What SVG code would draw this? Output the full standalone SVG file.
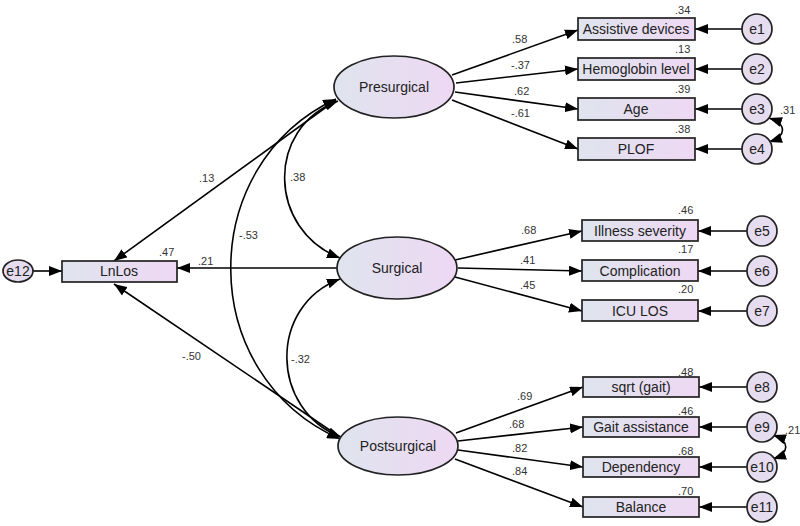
<svg xmlns="http://www.w3.org/2000/svg" width="800" height="526" viewBox="0 0 800 526">
<defs>
<linearGradient id="g" x1="0" y1="0" x2="1" y2="0">
<stop offset="0" stop-color="#dfe4ee"/>
<stop offset="1" stop-color="#eed8f3"/>
</linearGradient>
<marker id="ah" viewBox="0 0 13 10" refX="13" refY="5" markerWidth="13" markerHeight="10" markerUnits="userSpaceOnUse" orient="auto-start-reverse">
<path d="M0,0 L13,5 L0,10 z" fill="#000"/>
</marker>
<style>
.box{fill:url(#g);stroke:#222;stroke-width:1.7}
.lat{fill:url(#g);stroke:#222;stroke-width:1.7}
.err{fill:#e6dcef;stroke:#222;stroke-width:1.7}
.lbl{font-family:"Liberation Sans",Arial,sans-serif;font-size:14px;fill:#222;text-anchor:middle}
.num{font-family:"Liberation Sans",Arial,sans-serif;font-size:11px;fill:#333}
.c{fill:none;stroke:#000;stroke-width:1.6;marker-end:url(#ah)}
.d{fill:none;stroke:#000;stroke-width:1.6;marker-end:url(#ah);marker-start:url(#ah)}
</style>
</defs>
<rect width="800" height="526" fill="#fff"/>

<g id="connectors">
<path class="c" d="M452,75 L578,30"/>
<path class="c" d="M456,83 L578,69"/>
<path class="c" d="M455,92 L578,109"/>
<path class="c" d="M452,100 L578,149"/>
<path class="c" d="M455,260 L582,231"/>
<path class="c" d="M458,268 L582,271"/>
<path class="c" d="M455,277 L582,311"/>
<path class="c" d="M456,433 L583,387"/>
<path class="c" d="M458,441 L583,427"/>
<path class="c" d="M458,450 L583,467"/>
<path class="c" d="M455,459 L583,507"/>
<path class="c" d="M336,100 L114,261"/>
<path class="c" d="M338,268 L177,268"/>
<path class="c" d="M340,437 L114,284"/>
<path class="c" d="M33,271 L62,271"/>
<path class="d" d="M338,101 C265,128 268,230 340,258"/>
<path class="d" d="M336,99 C195,165 195,375 340,439"/>
<path class="d" d="M340,279 C268,306 270,410 341,437"/>
<path class="d" d="M769,118 C787,124 787,136 769,142"/>
<path class="d" d="M773,435 C790,441 790,453 773,459"/>
<path class="c" d="M742,29 L695,29"/>
<path class="c" d="M742,69 L695,69"/>
<path class="c" d="M742,109 L695,109"/>
<path class="c" d="M742,149 L695,149"/>
<path class="c" d="M747,231 L698,231"/>
<path class="c" d="M747,271 L698,271"/>
<path class="c" d="M747,311 L698,311"/>
<path class="c" d="M747,387 L699,387"/>
<path class="c" d="M747,427 L699,427"/>
<path class="c" d="M747,467 L699,467"/>
<path class="c" d="M747,507 L699,507"/>
</g>

<g id="e12"><ellipse class="err" cx="18" cy="271" rx="15" ry="11"/><text class="lbl" x="18" y="276">e12</text></g>
<g id="LnLos"><rect class="box" x="62" y="261" width="115" height="21"/><text class="lbl" x="119" y="276">LnLos</text></g>

<g id="Presurgical"><ellipse class="lat" cx="394" cy="87" rx="60" ry="31"/><text class="lbl" x="394" y="92">Presurgical</text></g>
<g id="Surgical"><ellipse class="lat" cx="397" cy="268" rx="60" ry="31"/><text class="lbl" x="397" y="273">Surgical</text></g>
<g id="Postsurgical"><ellipse class="lat" cx="398" cy="446" rx="60" ry="29"/><text class="lbl" x="398" y="451">Postsurgical</text></g>

<g id="assistive"><rect class="box" x="578" y="18" width="117" height="22"/><text class="lbl" x="636" y="34">Assistive devices</text></g>
<g id="hemoglobin"><rect class="box" x="578" y="58" width="117" height="22"/><text class="lbl" x="636" y="74">Hemoglobin level</text></g>
<g id="age"><rect class="box" x="578" y="98" width="117" height="22"/><text class="lbl" x="636" y="114">Age</text></g>
<g id="plof"><rect class="box" x="578" y="138" width="117" height="22"/><text class="lbl" x="636" y="154">PLOF</text></g>

<g id="illness"><rect class="box" x="582" y="220" width="116" height="21"/><text class="lbl" x="640" y="236">Illness severity</text></g>
<g id="complication"><rect class="box" x="582" y="260" width="116" height="21"/><text class="lbl" x="640" y="276">Complication</text></g>
<g id="iculos"><rect class="box" x="582" y="300" width="116" height="21"/><text class="lbl" x="640" y="316">ICU LOS</text></g>

<g id="sqrtgait"><rect class="box" x="583" y="377" width="116" height="20"/><text class="lbl" x="641" y="392">sqrt (gait)</text></g>
<g id="gaitassist"><rect class="box" x="583" y="417" width="116" height="20"/><text class="lbl" x="641" y="432">Gait assistance</text></g>
<g id="dependency"><rect class="box" x="583" y="457" width="116" height="20"/><text class="lbl" x="641" y="472">Dependency</text></g>
<g id="balance"><rect class="box" x="583" y="497" width="116" height="20"/><text class="lbl" x="641" y="512">Balance</text></g>

<g id="e1"><circle class="err" cx="757" cy="29" r="15"/><text class="lbl" x="757" y="34">e1</text></g>
<g id="e2"><circle class="err" cx="757" cy="69" r="15"/><text class="lbl" x="757" y="74">e2</text></g>
<g id="e3"><circle class="err" cx="757" cy="109" r="15"/><text class="lbl" x="757" y="114">e3</text></g>
<g id="e4"><circle class="err" cx="757" cy="149" r="15"/><text class="lbl" x="757" y="154">e4</text></g>
<g id="e5"><circle class="err" cx="762" cy="231" r="15"/><text class="lbl" x="762" y="236">e5</text></g>
<g id="e6"><circle class="err" cx="762" cy="271" r="15"/><text class="lbl" x="762" y="276">e6</text></g>
<g id="e7"><circle class="err" cx="762" cy="311" r="15"/><text class="lbl" x="762" y="316">e7</text></g>
<g id="e8"><circle class="err" cx="762" cy="387" r="15"/><text class="lbl" x="762" y="392">e8</text></g>
<g id="e9"><circle class="err" cx="762" cy="427" r="15"/><text class="lbl" x="762" y="432">e9</text></g>
<g id="e10"><circle class="err" cx="762" cy="467" r="15"/><text class="lbl" x="762" y="472">e10</text></g>
<g id="e11"><circle class="err" cx="762" cy="507" r="15"/><text class="lbl" x="762" y="512">e11</text></g>

<g id="labels">
<text class="num" x="512" y="43">.58</text>
<text class="num" x="511" y="69">-.37</text>
<text class="num" x="514" y="95">.62</text>
<text class="num" x="511" y="117">-.61</text>
<text class="num" x="675" y="14">.34</text>
<text class="num" x="675" y="53">.13</text>
<text class="num" x="675" y="93">.39</text>
<text class="num" x="675" y="133">.38</text>
<text class="num" x="780" y="114">.31</text>
<text class="num" x="521" y="234">.68</text>
<text class="num" x="520" y="264">.41</text>
<text class="num" x="520" y="289">.45</text>
<text class="num" x="678" y="214">.46</text>
<text class="num" x="678" y="253">.17</text>
<text class="num" x="678" y="293">.20</text>
<text class="num" x="517" y="400">.69</text>
<text class="num" x="509" y="428">.68</text>
<text class="num" x="512" y="452">.82</text>
<text class="num" x="512" y="475">.84</text>
<text class="num" x="678" y="376">.48</text>
<text class="num" x="678" y="415">.46</text>
<text class="num" x="678" y="455">.68</text>
<text class="num" x="678" y="495">.70</text>
<text class="num" x="785" y="434">.21</text>
<text class="num" x="199" y="182">.13</text>
<text class="num" x="159" y="256">.47</text>
<text class="num" x="198" y="265">.21</text>
<text class="num" x="182" y="360">-.50</text>
<text class="num" x="239" y="239">-.53</text>
<text class="num" x="290" y="181">.38</text>
<text class="num" x="291" y="363">-.32</text>
</g>
</svg>
